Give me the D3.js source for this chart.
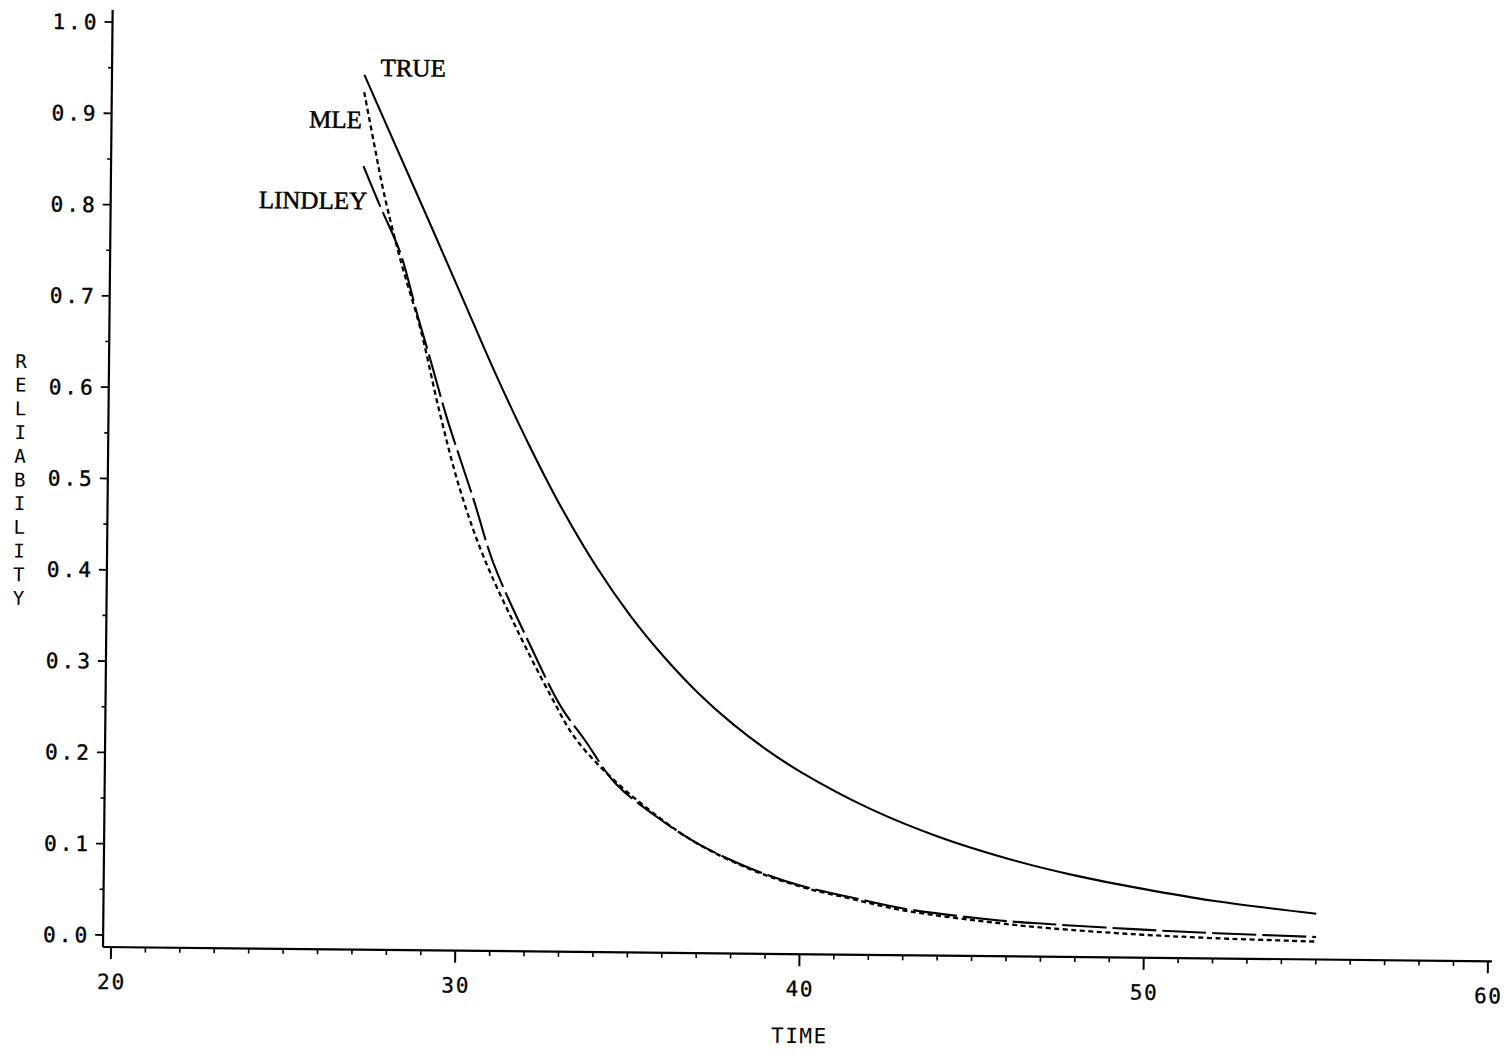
<!DOCTYPE html>
<html><head><meta charset="utf-8">
<script src="https://cdn.jsdelivr.net/npm/d3@7"></script>
<style>body{margin:0;background:#fff;} svg{display:block;background:#fff}</style>
</head><body>
<svg id="chart" width="1511" height="1062"></svg>
<script>
// ---- data ----
const trueTime = [27.1, 28.0, 29.0, 30.0, 31.0, 32.0, 33.0, 34.0, 35.0, 36.0, 37.0, 38.0, 39.0, 40.0, 42.0, 44.0, 46.0, 48.0, 50.0, 52.0, 55.0];
const trueRel  = [0.945, 0.870, 0.787, 0.703, 0.619, 0.541, 0.470, 0.408, 0.355, 0.310, 0.271, 0.238, 0.210, 0.186, 0.147, 0.117, 0.094, 0.076, 0.062, 0.050, 0.037];

const mleTime = [27.1, 27.4, 27.7, 28.2, 28.8, 29.4, 30.0, 30.7, 31.7, 32.7, 33.4, 34.4, 35.6, 36.9, 38.5, 40.0, 41.5, 43.0, 45.8, 47.3, 49.7, 52.1, 55.0];
const mleRel  = [0.926, 0.870, 0.816, 0.743, 0.668, 0.574, 0.492, 0.419, 0.339, 0.267, 0.222, 0.181, 0.143, 0.109, 0.080, 0.061, 0.048, 0.036, 0.023, 0.018, 0.0125, 0.009, 0.0065];

const lindleyTime = [27.1, 27.6, 28.2, 28.7, 29.1, 29.6, 30.4, 31.0, 32.1, 33.0, 33.7, 34.6, 35.8, 37.0, 38.5, 40.0, 41.5, 43.0, 45.8, 47.3, 49.7, 52.1, 55.0];
const lindleyRel  = [0.845, 0.801, 0.750, 0.684, 0.634, 0.570, 0.481, 0.411, 0.321, 0.255, 0.219, 0.172, 0.136, 0.107, 0.081, 0.062, 0.0495, 0.038, 0.026, 0.0225, 0.018, 0.0145, 0.0115];

const seriesNames = ["TRUE", "MLE", "LINDLEY"];
const xTicks = [20, 30, 40, 50, 60];
const xTickLabels = ["20", "30", "40", "50", "60"];
const yTicks = [0.0, 0.1, 0.2, 0.3, 0.4, 0.5, 0.6, 0.7, 0.8, 0.9, 1.0];
const yTickLabels = ["0.0", "0.1", "0.2", "0.3", "0.4", "0.5", "0.6", "0.7", "0.8", "0.9", "1.0"];
const xTitle = "TIME";
const yTitle = "RELIABILITY";

// ---- layout ----
const svg = d3.select("#chart");
const x = d3.scaleLinear().domain([20, 60]).range([111, 1488]);
const y = d3.scaleLinear().domain([0, 1]).range([935, 22]);
const axisX = 103, axisY = 947;
const mono = "'DejaVu Sans Mono', monospace";
const serif = "'Liberation Serif', 'Times New Roman', serif";

// the scanned original is slightly rotated
const g = svg.append("g").attr("transform", `rotate(0.59, ${axisX + 1}, ${axisY})`);

// axis lines
g.append("line").attr("x1", axisX).attr("x2", axisX).attr("y1", axisY).attr("y2", 10)
  .attr("stroke", "#000").attr("stroke-width", 2.2);
g.append("line").attr("x1", axisX).attr("x2", x(60) + 4).attr("y1", axisY).attr("y2", axisY)
  .attr("stroke", "#000").attr("stroke-width", 2.2);

// y ticks (major + minor)
const yMinor = d3.range(0.05, 1.0, 0.1);
g.selectAll(".ymaj").data(yTicks).join("line")
  .attr("x1", axisX - 8).attr("x2", axisX).attr("y1", d => y(d)).attr("y2", d => y(d))
  .attr("stroke", "#000").attr("stroke-width", 1.8);
g.selectAll(".ymin").data(yMinor).join("line")
  .attr("x1", axisX - 4).attr("x2", axisX).attr("y1", d => y(d)).attr("y2", d => y(d))
  .attr("stroke", "#000").attr("stroke-width", 1.6);
g.selectAll(".ylab").data(yTicks).join("text")
  .attr("x", axisX - 60).attr("y", d => y(d)).attr("dy", "0.36em")
  .attr("textLength", 44).attr("lengthAdjust", "spacing")
  .attr("font-family", mono).attr("font-size", 21).attr("fill", "#000")
  .attr("stroke", "#000").attr("stroke-width", 0.4)
  .text((d, i) => yTickLabels[i]);

// x ticks
const xMinor = d3.range(21, 60).filter(v => v % 10 !== 0);
g.selectAll(".xmaj").data(xTicks).join("line")
  .attr("x1", d => x(d)).attr("x2", d => x(d)).attr("y1", axisY).attr("y2", axisY + 12)
  .attr("stroke", "#000").attr("stroke-width", 2);
g.selectAll(".xmin").data(xMinor).join("line")
  .attr("x1", d => x(d)).attr("x2", d => x(d)).attr("y1", axisY).attr("y2", axisY + 5)
  .attr("stroke", "#000").attr("stroke-width", 1.6);
g.selectAll(".xlab").data(xTicks).join("text")
  .attr("x", d => x(d) - 13.5).attr("y", axisY + 42)
  .attr("textLength", 27).attr("lengthAdjust", "spacing")
  .attr("font-family", mono).attr("font-size", 21).attr("fill", "#000")
  .attr("stroke", "#000").attr("stroke-width", 0.3)
  .text((d, i) => xTickLabels[i]);

// axis titles
g.append("text").attr("x", (x(20) + x(60)) / 2 - 27.5).attr("y", axisY + 89)
  .attr("textLength", 55).attr("lengthAdjust", "spacing")
  .attr("font-family", mono).attr("font-size", 21).attr("fill", "#000").text(xTitle);
g.selectAll(".ytitle").data(yTitle.split("")).join("text")
  .attr("x", 15).attr("y", (d, i) => 362 + i * 23.7).attr("dy", "0.36em")
  .attr("text-anchor", "middle")
  .attr("font-family", mono).attr("font-size", 19).attr("fill", "#000").text(d => d);

// curves
const line = d3.line().x(d => x(d[0])).y(d => y(d[1])).curve(d3.curveCatmullRom.alpha(0.5));
const zip = (a, b) => a.map((v, i) => [v, b[i]]);
const series = [
  {name: seriesNames[0], pts: zip(trueTime, trueRel), dash: null, w: 2.1},
  {name: seriesNames[1], pts: zip(mleTime, mleRel), dash: "5,3.5", w: 2.3},
  {name: seriesNames[2], pts: zip(lindleyTime, lindleyRel), dash: "44,6", w: 2.1}
];
g.selectAll(".curve").data(series).join("path")
  .attr("d", d => line(d.pts)).attr("fill", "none").attr("stroke", "#000")
  .attr("stroke-width", d => d.w).attr("stroke-dasharray", d => d.dash);

// curve labels (placed relative to each curve's start)
const s0 = series[0].pts[0], s1 = series[1].pts[0], s2 = series[2].pts[0];
const lab = (t) => t.attr("font-family", serif).attr("font-size", 25).attr("fill", "#000")
  .attr("stroke", "#000").attr("stroke-width", 0.5);
lab(g.append("text").attr("x", x(s0[0]) + 16).attr("y", y(s0[1]) + 1).text(series[0].name));
lab(g.append("text").attr("x", x(s1[0]) - 2).attr("y", y(s1[1]) + 36).attr("text-anchor", "end").text(series[1].name));
lab(g.append("text").attr("x", x(s2[0]) + 4).attr("y", y(s2[1]) + 43).attr("text-anchor", "end").text(series[2].name));
</script>
</body></html>
